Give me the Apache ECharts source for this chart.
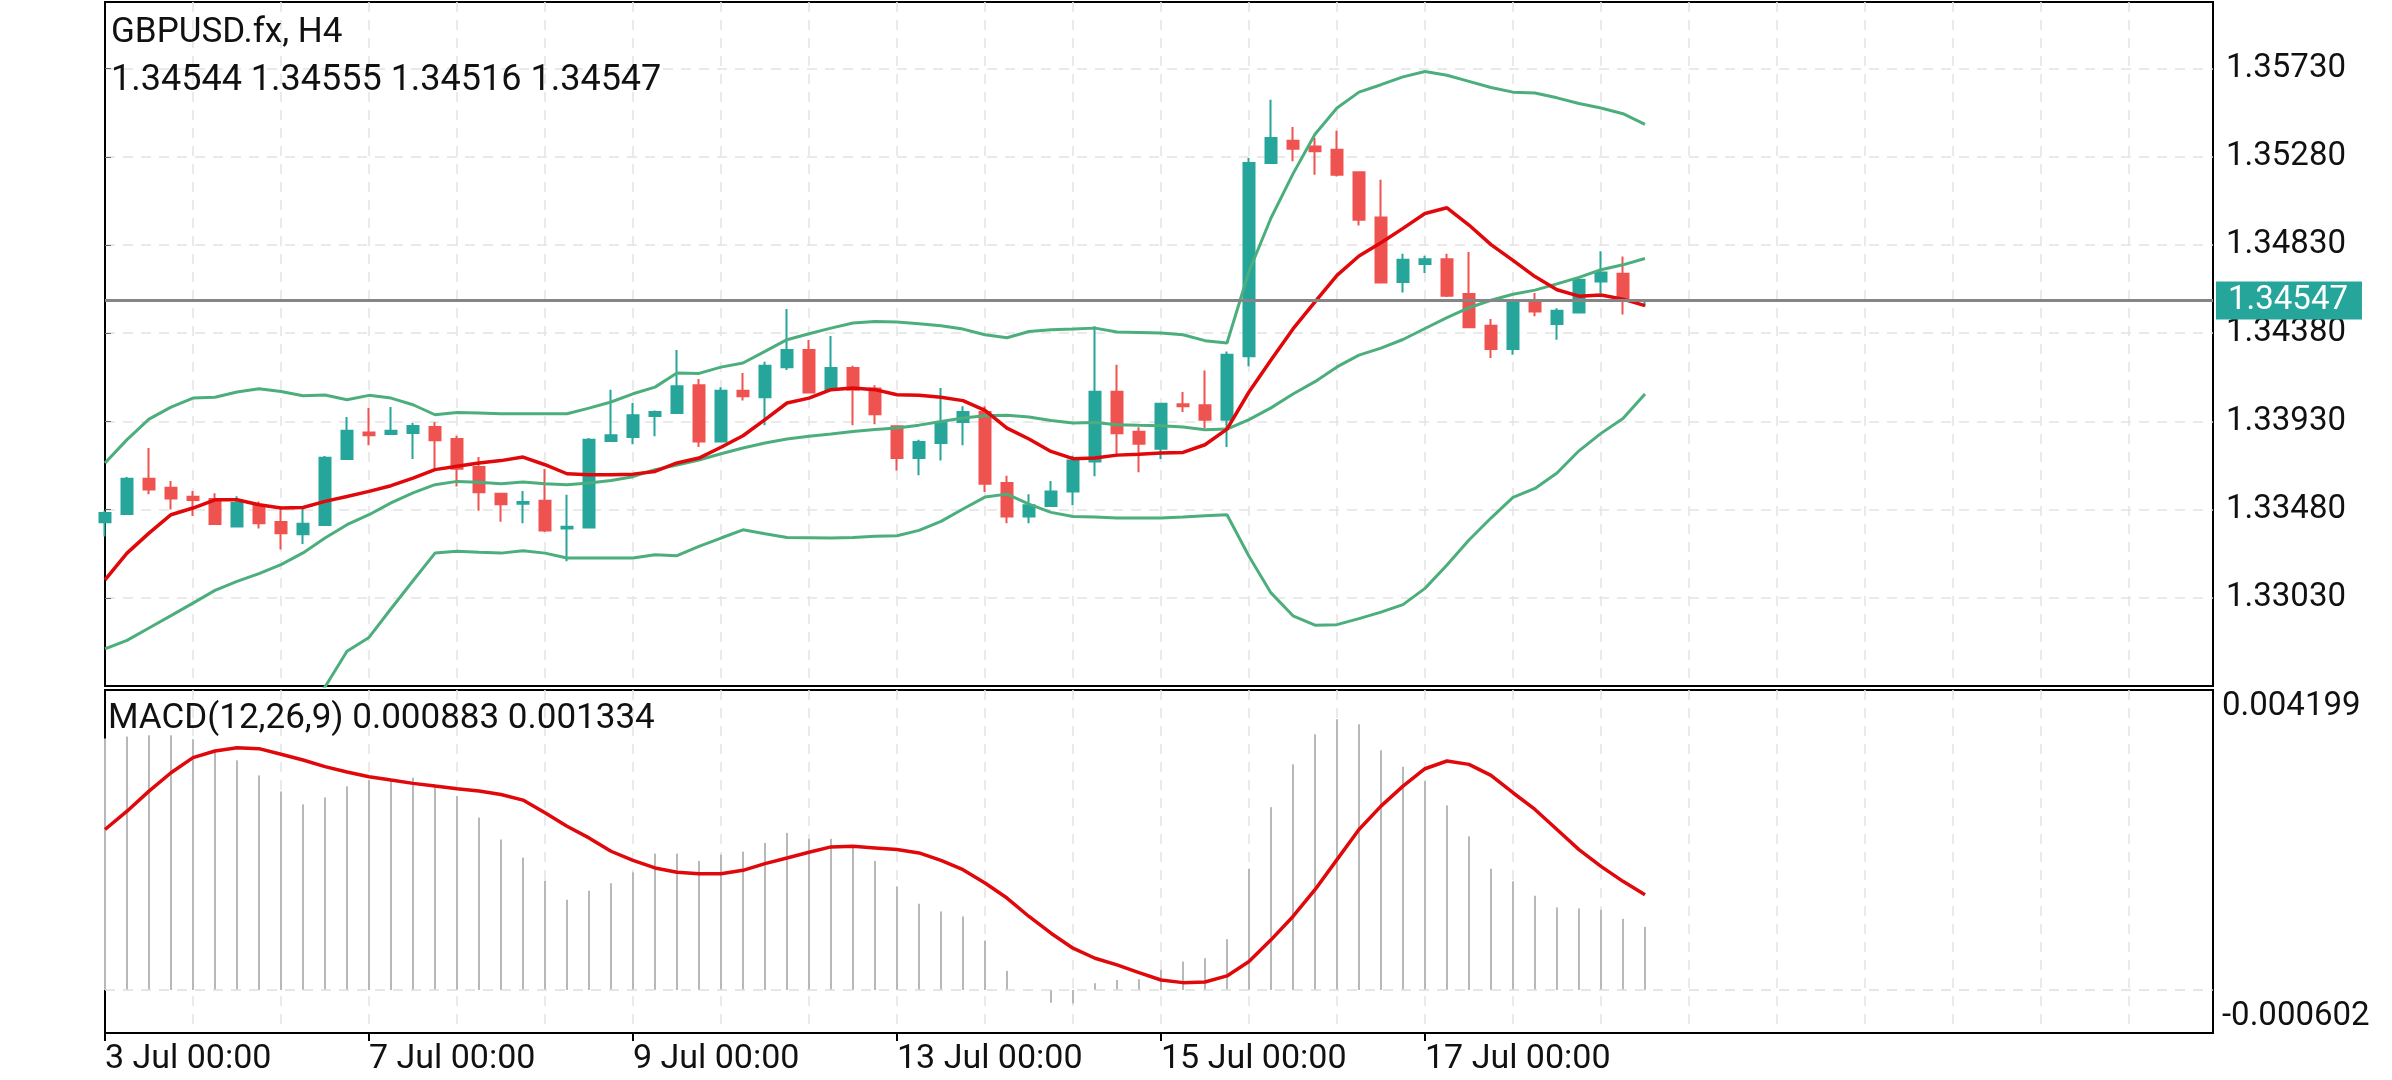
<!DOCTYPE html>
<html>
<head>
<meta charset="utf-8">
<script src="https://cdn.jsdelivr.net/npm/echarts@6/dist/echarts.min.js"></script>
<style>
  html, body { margin: 0; padding: 0; background: #fff; }
  #chart { width: 2392px; height: 1080px; }
</style>
</head>
<body>
<div id="chart"></div>
<script>
// x tick labels, one every 12 H4 bars
var tickLabels = ['3 Jul 00:00', '7 Jul 00:00', '9 Jul 00:00', '13 Jul 00:00', '15 Jul 00:00', '17 Jul 00:00'];

var opens = [1.33415,1.33457,1.33638,1.33592,1.33546,1.33534,1.33394,1.33503,1.33417,1.33354,
  1.33401,1.33738,1.33874,1.33866,1.33871,1.33901,1.33840,1.33697,1.33561,1.33510,
  1.33525,1.33384,1.33389,1.33830,1.33850,1.33957,1.33973,1.34115,1.33828,1.34087,
  1.34053,1.34206,1.34294,1.34092,1.34202,1.34098,1.33905,1.33743,1.33820,1.33927,
  1.33978,1.33616,1.33445,1.33498,1.33573,1.33726,1.34081,1.33877,1.33791,1.34018,
  1.34013,1.33939,1.34262,1.35248,1.35362,1.35333,1.35316,1.35201,1.34971,1.34641,
  1.34733,1.34758,1.34580,1.34418,1.34299,1.34546,1.34427,1.34486,1.34644,1.34684,
  1.34544];
var closes = [1.33463,1.33638,1.33583,1.33537,1.33529,1.33406,1.33514,1.33410,1.33359,1.33408,
  1.33745,1.33882,1.33860,1.33882,1.33906,1.33834,1.33689,1.33568,1.33507,1.33519,
  1.33374,1.33393,1.33837,1.33860,1.33962,1.33978,1.34109,1.33828,1.34087,1.34058,
  1.34214,1.34294,1.34078,1.34202,1.34092,1.33966,1.33743,1.33825,1.33927,1.33978,
  1.33612,1.33445,1.33502,1.33573,1.33731,1.34081,1.33869,1.33816,1.34020,1.34008,
  1.33939,1.34270,1.35248,1.35376,1.35321,1.35308,1.35189,1.34959,1.34639,1.34755,
  1.34758,1.34571,1.34410,1.34299,1.34542,1.34491,1.34495,1.34653,1.34690,1.34544,
  1.34547];
var lows = [1.33343,1.33454,1.33558,1.33481,1.33447,1.33403,1.33391,1.33384,1.33277,1.33304,
  1.33398,1.33735,1.33809,1.33862,1.33738,1.33689,1.33598,1.33474,1.33418,1.33411,
  1.33366,1.33216,1.33386,1.33828,1.33813,1.33854,1.33969,1.33799,1.33825,1.34037,
  1.33910,1.34192,1.34075,1.34088,1.33910,1.33915,1.33680,1.33655,1.33731,1.33808,
  1.33570,1.33411,1.33411,1.33497,1.33502,1.33650,1.33760,1.33670,1.33738,1.33978,
  1.33896,1.33799,1.34211,1.35248,1.35257,1.35189,1.35180,1.34930,1.34639,1.34588,
  1.34687,1.34565,1.34406,1.34253,1.34270,1.34466,1.34347,1.34483,1.34585,1.34475,
  1.34516];
var highs = [1.33475,1.33646,1.33794,1.33626,1.33575,1.33564,1.33548,1.33522,1.33485,1.33485,
  1.33753,1.33952,1.33998,1.34003,1.33922,1.33927,1.33857,1.33748,1.33565,1.33575,
  1.33687,1.33556,1.33845,1.34092,1.34024,1.33986,1.34294,1.34146,1.34104,1.34177,
  1.34235,1.34503,1.34345,1.34366,1.34214,1.34114,1.33908,1.33837,1.34100,1.34007,
  1.34007,1.33653,1.33559,1.33626,1.33755,1.34415,1.34219,1.33900,1.34024,1.34080,
  1.34190,1.34287,1.35274,1.35571,1.35432,1.35376,1.35413,1.35206,1.35163,1.34786,
  1.34775,1.34786,1.34794,1.34452,1.34547,1.34585,1.34508,1.34661,1.34798,1.34772,
  1.34555];

// bollinger bands (green) and moving average (red)
var bbUpper = [1.33718,1.33837,1.33942,1.34003,1.34049,1.34053,1.34080,1.34097,1.34083,1.34061,
  1.34065,1.34041,1.34063,1.34049,1.34015,1.33964,1.33976,1.33973,1.33969,1.33969,
  1.33969,1.33969,1.33998,1.34029,1.34071,1.34105,1.34177,1.34175,1.34207,1.34228,
  1.34287,1.34347,1.34377,1.34406,1.34432,1.34440,1.34437,1.34428,1.34418,1.34401,
  1.34372,1.34357,1.34389,1.34398,1.34401,1.34406,1.34386,1.34384,1.34381,1.34372,
  1.34342,1.34330,1.34695,1.34968,1.35193,1.35395,1.35529,1.35610,1.35648,1.35688,
  1.35715,1.35696,1.35665,1.35634,1.35610,1.35606,1.35581,1.35552,1.35529,1.35500,
  1.35446];
var bbMiddle = [1.32769,1.32813,1.32876,1.32939,1.33003,1.33068,1.33114,1.33153,1.33199,1.33259,
  1.33335,1.33403,1.33454,1.33514,1.33565,1.33607,1.33624,1.33619,1.33612,1.33621,
  1.33612,1.33607,1.33616,1.33629,1.33648,1.33684,1.33707,1.33733,1.33765,1.33794,
  1.33820,1.33840,1.33854,1.33866,1.33879,1.33889,1.33896,1.33911,1.33930,1.33947,
  1.33959,1.33962,1.33952,1.33935,1.33922,1.33925,1.33913,1.33910,1.33908,1.33901,
  1.33888,1.33891,1.33939,1.33999,1.34070,1.34133,1.34208,1.34268,1.34304,1.34348,
  1.34404,1.34460,1.34510,1.34548,1.34579,1.34600,1.34632,1.34665,1.34704,1.34729,
  1.34761];
var bbLower = [1.31820,1.31789,1.31810,1.31875,1.31957,1.32083,1.32148,1.32209,1.32315,1.32457,
  1.32575,1.32757,1.32828,1.32974,1.33117,1.33258,1.33267,1.33262,1.33258,1.33270,
  1.33258,1.33233,1.33233,1.33233,1.33233,1.33250,1.33245,1.33292,1.33335,1.33377,
  1.33357,1.33338,1.33337,1.33335,1.33338,1.33344,1.33347,1.33374,1.33420,1.33483,
  1.33544,1.33559,1.33508,1.33466,1.33445,1.33442,1.33437,1.33437,1.33437,1.33442,
  1.33449,1.33454,1.33242,1.33055,1.32938,1.32890,1.32893,1.32924,1.32957,1.32995,
  1.33078,1.33197,1.33325,1.33437,1.33542,1.33588,1.33667,1.33780,1.33869,1.33945,
  1.34070];
var maRed = [1.33122,1.33258,1.33360,1.33454,1.33488,1.33530,1.33530,1.33505,1.33488,1.33491,
  1.33522,1.33547,1.33573,1.33602,1.33641,1.33684,1.33701,1.33718,1.33730,1.33748,
  1.33709,1.33663,1.33658,1.33658,1.33661,1.33675,1.33718,1.33743,1.33798,1.33857,
  1.33939,1.34024,1.34049,1.34092,1.34100,1.34092,1.34066,1.34063,1.34053,1.34036,
  1.33986,1.33896,1.33840,1.33777,1.33740,1.33743,1.33758,1.33762,1.33769,1.33772,
  1.33811,1.33891,1.34080,1.34243,1.34402,1.34540,1.34675,1.34774,1.34842,1.34915,
  1.34991,1.35020,1.34932,1.34832,1.34752,1.34669,1.34602,1.34569,1.34575,1.34554,
  1.34521];

// MACD(12,26,9): main as grey histogram, signal as red line
var macdMain = [0.003520,0.003547,0.003565,0.003565,0.003509,0.003340,0.003214,0.003004,0.002779,0.002597,
  0.002695,0.002850,0.002938,0.002930,0.002971,0.002878,0.002714,0.002414,0.002106,0.001853,
  0.001530,0.001263,0.001390,0.001493,0.001647,0.001909,0.001909,0.001806,0.001895,0.001937,
  0.002059,0.002199,0.002115,0.002115,0.002012,0.001806,0.001450,0.001207,0.001100,0.001029,
  0.000692,0.000267,-0.000010,-0.000178,-0.000187,0.000094,0.000140,0.000150,0.000281,0.000398,
  0.000445,0.000711,0.001698,0.002559,0.003158,0.003579,0.003790,0.003720,0.003355,0.003126,
  0.002924,0.002583,0.002152,0.001698,0.001521,0.001319,0.001156,0.001142,0.001123,0.000997,
  0.000883];
var macdSignal = [0.002246,0.002503,0.002784,0.003041,0.003252,0.003345,0.003392,0.003378,0.003299,0.003219,
  0.003126,0.003051,0.002985,0.002938,0.002892,0.002854,0.002817,0.002784,0.002737,0.002658,
  0.002480,0.002293,0.002129,0.001942,0.001815,0.001708,0.001647,0.001628,0.001628,0.001675,
  0.001769,0.001848,0.001928,0.002003,0.002012,0.001989,0.001965,0.001918,0.001815,0.001684,
  0.001497,0.001287,0.001029,0.000795,0.000585,0.000444,0.000351,0.000243,0.000140,0.000103,
  0.000112,0.000197,0.000398,0.000702,0.001029,0.001404,0.001825,0.002246,0.002573,0.002854,
  0.003097,0.003205,0.003158,0.003004,0.002761,0.002527,0.002246,0.001965,0.001731,0.001521,
  0.001334];

var last = opens.length - 1;
var lastPrice = closes[last];

var dom = document.getElementById('chart');
var chart = echarts.init(dom);

var xMax = 95.82;   // visible bar slots across the plot
var font = 'Roboto';
var textColor = '#111';
var green = '#4cae7c';
var red = '#e0080a';

function gridLine() {
  return {
    show: true, showMinLine: false, showMaxLine: false,
    lineStyle: { color: '#e4e4e4', width: 1.5, type: [10, 8] }
  };
}
function pairs(arr) {
  return arr.map(function (v, i) { return [i, v]; });
}
var candleData = opens.map(function (o, i) {
  return [i, o, closes[i], lows[i], highs[i]];
});
var tickPos = tickLabels.map(function (t, i) { return i * 12; });

var ohlcText = [opens[last], highs[last], lows[last], closes[last]].map(function (v) {
  return v.toFixed(5);
}).join(' ');
var macdText = 'MACD(12,26,9) ' + macdMain[last].toFixed(6) + ' ' + macdSignal[last].toFixed(6);

var titleStyle = { fontFamily: font, fontSize: 35, fontWeight: 'normal', color: textColor };

var option = {
  animation: false,
  backgroundColor: '#fff',
  title: [
    { text: 'GBPUSD.fx, H4', left: 111, top: 16, padding: 0, textStyle: titleStyle },
    { text: ohlcText, left: 111, top: 63, padding: 0, textStyle: { fontFamily: font, fontSize: 36, fontWeight: 'normal', color: textColor } },
    { text: macdText, left: 108, top: 702, padding: 0, textStyle: titleStyle }
  ],
  grid: [
    { left: 105, right: 179, top: 2, height: 684, show: true, borderColor: '#000', borderWidth: 2 },
    { left: 105, right: 179, top: 690, height: 343, show: true, borderColor: '#000', borderWidth: 2 }
  ],
  xAxis: [
    {
      gridIndex: 0, type: 'value', min: 0, max: xMax, interval: 4,
      axisLine: { show: false }, axisTick: { show: false }, axisLabel: { show: false },
      splitLine: gridLine()
    },
    {
      gridIndex: 1, type: 'value', min: 0, max: xMax, interval: 4,
      axisLine: { show: false }, axisTick: { show: false }, axisLabel: { show: false },
      splitLine: gridLine()
    },
    {
      gridIndex: 1, type: 'value', position: 'bottom', min: 0, max: xMax,
      axisLine: { show: true, lineStyle: { color: '#000', width: 2 } },
      axisTick: { show: true, customValues: tickPos, length: 8, lineStyle: { color: '#000', width: 2 } },
      axisLabel: {
        customValues: tickPos,
        formatter: function (v) { return tickLabels[Math.round(v / 12)] || ''; },
        align: 'left', margin: 9, fontFamily: font, fontSize: 34, color: textColor
      },
      splitLine: { show: false }
    }
  ],
  yAxis: [
    {
      gridIndex: 0, type: 'value', position: 'right', min: 1.32580, max: 1.36070, interval: 0.0045,
      axisLine: { show: true, lineStyle: { color: '#000', width: 2 } },
      axisTick: { show: true, length: 6, lineStyle: { color: '#666', width: 1 } },
      axisLabel: {
        formatter: function (v) { return v.toFixed(5); },
        showMinLabel: false, showMaxLabel: false,
        margin: 13, fontFamily: font, fontSize: 33, color: textColor
      },
      splitLine: gridLine()
    },
    {
      gridIndex: 1, type: 'value', position: 'right', min: -0.000602, max: 0.004199, interval: 0.004801,
      axisLine: { show: true, lineStyle: { color: '#000', width: 2 } },
      axisTick: { show: false },
      axisLabel: {
        formatter: function (v) { return v.toFixed(6); },
        showMinLabel: true, showMaxLabel: true,
        verticalAlignMaxLabel: 'top', verticalAlignMinLabel: 'bottom',
        margin: 9, fontFamily: font, fontSize: 33, color: textColor
      },
      splitLine: { show: false }
    }
  ],
  series: [
    {
      type: 'candlestick',
      xAxisIndex: 0, yAxisIndex: 0,
      data: candleData,
      encode: { x: 0, y: [1, 2, 3, 4] },
      barWidth: 12,
      itemStyle: {
        color: '#26a69a', color0: '#ef5350',
        borderColor: '#26a69a', borderColor0: '#ef5350', borderWidth: 2
      }
    },
    {
      // current price line with its tag on the price scale
      type: 'line', xAxisIndex: 0, yAxisIndex: 0, data: [], z: 3,
      markLine: {
        silent: true,
        precision: 5,
        symbol: ['none', 'none'],
        data: [{ yAxis: lastPrice }],
        lineStyle: { color: '#858585', width: 3, type: 'solid' },
        label: {
          show: true, position: 'end', distance: 3,
          formatter: lastPrice.toFixed(5),
          backgroundColor: '#26a69a', color: '#fff',
          fontFamily: font, fontSize: 33, padding: [3, 14, 2, 12]
        }
      }
    },
    { type: 'line', xAxisIndex: 0, yAxisIndex: 0, data: pairs(bbUpper), showSymbol: false, lineStyle: { color: green, width: 3 }, z: 3 },
    { type: 'line', xAxisIndex: 0, yAxisIndex: 0, data: pairs(bbMiddle), showSymbol: false, lineStyle: { color: green, width: 3 }, z: 3 },
    { type: 'line', xAxisIndex: 0, yAxisIndex: 0, data: pairs(bbLower), showSymbol: false, lineStyle: { color: green, width: 3 }, z: 3 },
    { type: 'line', xAxisIndex: 0, yAxisIndex: 0, data: pairs(maRed), showSymbol: false, lineStyle: { color: red, width: 3.5 }, z: 4 },
    {
      type: 'bar', xAxisIndex: 1, yAxisIndex: 1,
      data: pairs(macdMain), barWidth: 2,
      itemStyle: { color: '#b8b8b8' },
      markLine: {
        silent: true, symbol: ['none', 'none'],
        data: [{ yAxis: 0 }],
        lineStyle: { color: '#dedede', width: 1.5, type: [10, 8] },
        label: { show: false }
      }
    },
    { type: 'line', xAxisIndex: 1, yAxisIndex: 1, data: pairs(macdSignal), showSymbol: false, lineStyle: { color: red, width: 3.5 }, z: 4 }
  ]
};

chart.setOption(option);
</script>
</body>
</html>
